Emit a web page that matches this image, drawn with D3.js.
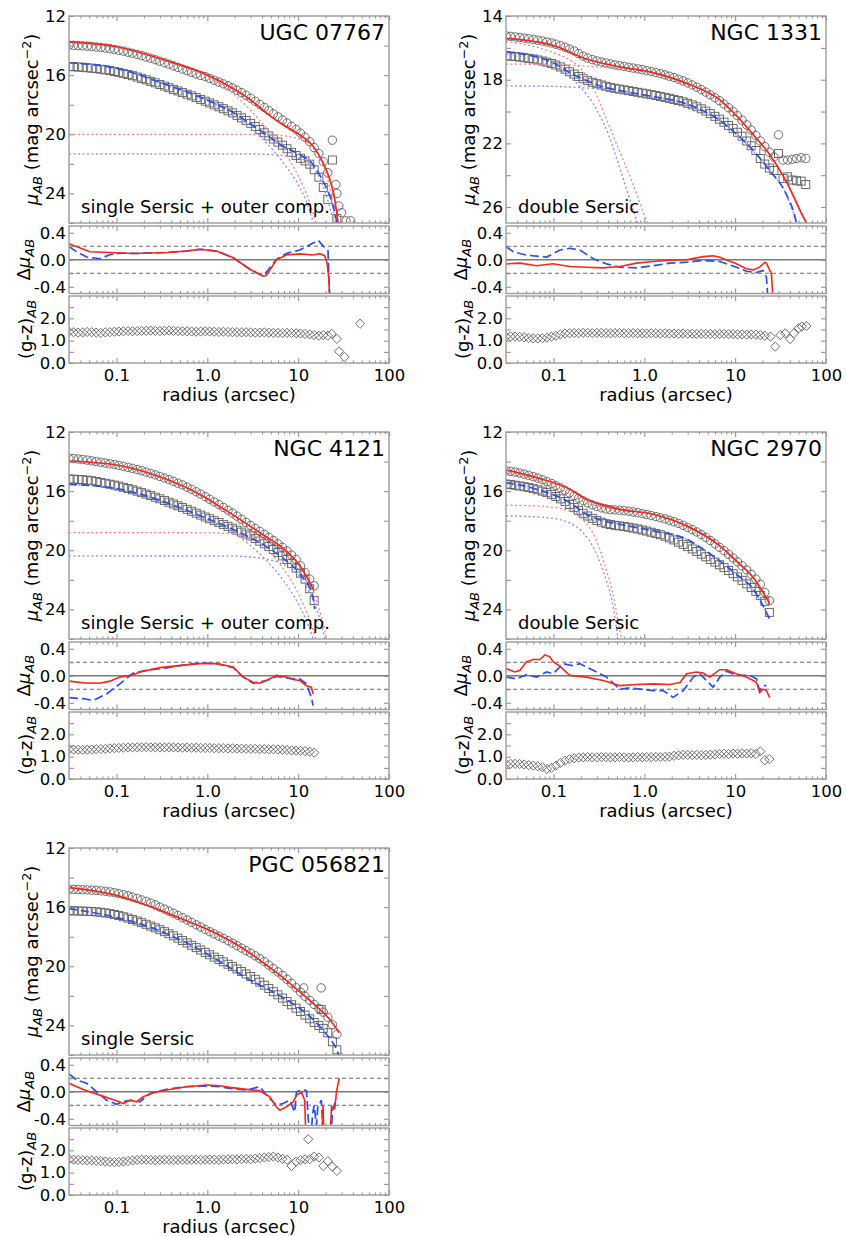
<!DOCTYPE html>
<html><head><meta charset="utf-8">
<script src="https://cdn.jsdelivr.net/npm/d3@7/dist/d3.min.js"></script>
<style>
html,body{margin:0;padding:0;background:#fff;}
svg{display:block;}
text{font-family:"DejaVu Sans","Bitstream Vera Sans",sans-serif;fill:#000;}
.tick text{font-size:16.5px;}
</style></head><body>
<svg id="chart" width="846" height="1236" xmlns="http://www.w3.org/2000/svg"></svg>
<script>
// ---------------- shared axis data ----------------
const radiusGrid = [0.030,0.0337,0.0378,0.0424,0.0475,0.0533,0.0599,0.0672,0.0754,0.0846,
 0.0949,0.106,0.119,0.134,0.150,0.169,0.189,0.212,0.238,0.267,
 0.300,0.337,0.378,0.424,0.475,0.533,0.599,0.672,0.754,0.846,
 0.949,1.06,1.19,1.34,1.50,1.69,1.89,2.12,2.38,2.67,
 3.00,3.37,3.78,4.24,4.75,5.33,5.99,6.72,7.54,8.46,
 9.49,10.6,11.9,13.4,15.0,16.9,18.9,21.2,23.8,26.7,
 30.0,33.7,37.8,42.4,47.5,53.3,59.9];
const xMajorTicks = [0.1, 1, 10, 100];
const xTickLabels = ["0.1", "1.0", "10", "100"];
const xMinorTicks = [0.04,0.05,0.06,0.07,0.08,0.09,0.2,0.3,0.4,0.5,0.6,0.7,0.8,0.9,2,3,4,5,6,7,8,9,20,30,40,50,60,70,80,90];
const resTicks = [-0.4,-0.2,0,0.2,0.4];
const resRefLines = [-0.2, 0.2];
const colorTicks = [0,0.5,1,1.5,2,2.5];

// ---------------- UGC 07767 ----------------
const ugcCircles = [13.97,13.98,14.00,14.02,14.04,14.07,14.10,14.13,14.17,14.21,
 14.26,14.32,14.38,14.45,14.52,14.60,14.68,14.77,14.86,14.96,
 15.06,15.16,15.26,15.37,15.48,15.59,15.70,15.81,15.92,16.02,
 16.10,16.22,16.34,16.47,16.59,16.72,16.86,17.02,17.18,17.36,
 17.56,17.77,17.98,18.19,18.40,18.61,18.82,19.03,19.24,19.46,
 19.68,19.92,20.20,20.50,20.90,21.30,21.85,22.60,20.40,24.00,
 25.30,25.85,25.85];
const ugcSquares = [15.42,15.43,15.45,15.47,15.50,15.53,15.56,15.60,15.64,15.69,
 15.75,15.81,15.88,15.96,16.04,16.13,16.22,16.32,16.42,16.52,
 16.63,16.74,16.85,16.96,17.07,17.18,17.29,17.40,17.52,17.64,
 17.76,17.88,18.01,18.14,18.27,18.41,18.55,18.72,18.89,19.07,
 19.26,19.47,19.68,19.90,20.11,20.32,20.53,20.74,20.98,21.22,
 21.44,21.62,21.80,22.02,22.40,22.90,23.60,24.40,21.74,25.70];
const ugcColors = [1.40,1.38,1.36,1.37,1.39,1.38,1.36,1.35,1.37,1.38,
 1.40,1.41,1.42,1.43,1.42,1.43,1.44,1.44,1.45,1.44,
 1.43,1.44,1.45,1.44,1.43,1.42,1.42,1.41,1.40,1.41,
 1.42,1.41,1.40,1.39,1.40,1.39,1.38,1.38,1.37,1.38,
 1.37,1.36,1.36,1.37,1.36,1.35,1.35,1.34,1.35,1.34,
 1.33,1.32,1.30,1.28,1.25,1.22,1.25,1.22];
const ugcExtraCircleR = [26.0, 28.0];
const ugcExtraCircleMu = [23.4, 24.85];
const ugcExtraColorR = [23.4, 26.7, 28.2, 32.4, 48];
const ugcExtraColorV = [1.30, 1.08, 0.52, 0.27, 1.76];
const ugcModelGR = [0.03,0.1,0.36,1.0,1.9,3.0,4.5,6.8,10.4,14.6,18.8,22.3,25.3,27.5];
const ugcModelGMu = [13.75,14.08,15.03,15.99,16.89,17.68,18.57,19.36,20.03,20.81,21.93,23.06,24.4,26.0];
const ugcModelZR = [0.03,0.1,0.36,0.98,1.93,3.0,4.48,6.82,10.4,14.6,18.8,22.3,25.3,26.8];
const ugcModelZMu = [15.16,15.54,16.66,17.67,18.53,19.3,20.03,20.81,21.37,22.05,23.17,24.18,25.3,26.0];
const ugcCompGInR = [0.03,0.1,0.36,1.0,1.9,2.8,4.5,7,10,13,16];
const ugcCompGInMu = [13.76,14.1,15.06,16.05,17.2,18.2,19.6,21.2,22.8,24.4,26.2];
const ugcCompGOutR = [0.03,2,5,8,10,14,18,22,26];
const ugcCompGOutMu = [20.0,20.0,20.05,20.15,20.3,20.8,21.8,23.5,26.2];
const ugcCompZInR = [0.03,0.1,0.36,1.0,1.9,3,4.5,7,10,13,15];
const ugcCompZInMu = [15.17,15.55,16.68,17.7,18.65,19.6,20.6,22.0,23.4,24.9,26.2];
const ugcCompZOutR = [0.03,3,6,10,14,18,22,25];
const ugcCompZOutMu = [21.33,21.33,21.4,21.6,22.1,23.2,24.8,26.2];
const ugcResGR = [0.03,0.051,0.085,0.153,0.356,0.59,0.83,1.27,1.93,2.94,4.12,4.48,5.77,7.42,10.4,14.6,17.3,19.6,20.8,21.7,22.3];
const ugcResGV = [0.237,0.118,0.108,0.093,0.108,0.128,0.155,0.128,0.03,-0.14,-0.243,-0.23,0,0.07,0.087,0.07,0.09,0.06,-0.05,-0.27,-0.6];
const ugcResZR = [0.03,0.0365,0.047,0.066,0.085,0.119,0.153,0.356,0.59,0.83,1.27,1.93,2.94,4.12,5.77,7.42,10.4,14.6,16.6,18.8,21.3,21.9,22.3];
const ugcResZV = [0.195,0.118,0.04,0.015,0.077,0.1,0.093,0.108,0.13,0.155,0.128,0.03,-0.14,-0.243,0.005,0.093,0.144,0.247,0.288,0.206,0.134,-0.32,-0.6];

// ---------------- NGC 1331 ----------------
const n1331Circles = [15.25,15.28,15.31,15.35,15.39,15.43,15.47,15.52,15.57,15.63,
 15.69,15.77,15.86,15.96,16.07,16.20,16.36,16.52,16.64,16.74,
 16.82,16.89,16.95,17.01,17.07,17.12,17.17,17.22,17.27,17.32,
 17.37,17.43,17.49,17.55,17.62,17.70,17.78,17.87,17.97,18.08,
 18.20,18.33,18.47,18.62,18.78,18.95,19.13,19.32,19.53,19.76,
 20.00,20.26,20.54,20.84,21.16,21.50,21.85,22.20,22.55,22.85,
 21.46,23.05,23.05,23.00,22.95,22.90,22.95];
const n1331Squares = [16.50,16.52,16.55,16.58,16.62,16.66,16.70,16.76,16.83,16.90,
 16.98,17.08,17.20,17.34,17.50,17.65,17.80,17.94,18.06,18.16,
 18.25,18.33,18.41,18.48,18.54,18.59,18.64,18.69,18.74,18.79,
 18.84,18.89,18.94,18.99,19.05,19.11,19.17,19.24,19.31,19.39,
 19.48,19.58,19.70,19.83,19.97,20.13,20.30,20.48,20.67,20.87,
 21.07,21.30,21.55,21.85,22.15,22.45,22.95,23.30,23.55,23.70,
 22.64,24.20,24.10,24.30,24.35,24.37,24.58];
const n1331Colors = [1.18,1.19,1.18,1.17,1.15,1.12,1.10,1.10,1.11,1.14,
 1.18,1.22,1.28,1.32,1.33,1.34,1.34,1.35,1.35,1.34,
 1.35,1.35,1.34,1.33,1.34,1.34,1.33,1.33,1.34,1.33,
 1.33,1.32,1.33,1.33,1.32,1.33,1.32,1.32,1.31,1.32,
 1.31,1.31,1.30,1.31,1.30,1.30,1.29,1.30,1.30,1.29,
 1.29,1.28,1.28,1.27,1.28,1.27,1.25,1.22];
const n1331ExtraColorR = [24.5,27.6,31.4,35.6,40.3,44.3,50.1,54.3,60.9];
const n1331ExtraColorV = [1.18,0.74,1.25,1.33,1.07,1.33,1.56,1.63,1.66];
const n1331ModelGR = [0.03,0.1,0.23,0.54,1.25,2.92,6.77,10.3,15.8,24,36.6,56,61];
const n1331ModelGMu = [15.41,15.85,16.7,17.19,17.56,18.23,19.27,20.25,21.45,22.7,24.4,26.6,27.0];
const n1331ModelZR = [0.03,0.1,0.151,0.23,0.353,0.539,1.25,2.92,6.77,10.3,15.8,24,36.6,45.3,47.3];
const n1331ModelZMu = [16.25,16.95,17.55,18.05,18.45,18.69,19.06,19.52,20.55,21.4,22.45,23.7,25.2,26.56,27.0];
const n1331CompGInR = [0.03,0.06,0.1,0.15,0.2,0.3,0.384,0.5,0.756,1.05,1.15];
const n1331CompGInMu = [15.6,15.9,16.3,16.75,17.3,19.0,20.5,22.1,24.6,26.8,27.3];
const n1331CompGOutR = [0.03,0.1,0.2,0.3,0.54,1.25,2.92,6.77,10.3,15.8,24,36.6,56,61];
const n1331CompGOutMu = [17.02,17.05,17.12,17.2,17.25,17.58,18.25,19.29,20.27,21.47,22.72,24.42,26.62,27.0];
const n1331CompZInR = [0.03,0.06,0.1,0.15,0.2,0.3,0.4,0.54,0.7,0.85];
const n1331CompZInMu = [16.4,16.75,17.2,17.85,18.5,19.9,21.4,23.6,25.6,27.1];
const n1331CompZOutR = [0.03,0.1,0.2,0.35,0.54,1.25,2.92,6.77,10.3,15.8,24,36.6,47.3];
const n1331CompZOutMu = [18.39,18.42,18.5,18.6,18.72,19.08,19.54,20.57,21.42,22.47,23.72,25.22,27.0];
const n1331ResGR = [0.03,0.0428,0.0652,0.099,0.151,0.23,0.353,0.539,0.822,1.25,1.91,2.92,4.44,5.72,6.77,10.3,13.3,15.8,18.6,21.2,22.1,25.1,26.1];
const n1331ResGV = [-0.062,-0.05,-0.088,-0.06,-0.1,-0.11,-0.12,-0.1,-0.05,-0.026,-0.005,0,0.046,0.06,0.036,-0.06,-0.134,-0.15,-0.11,-0.04,-0.05,-0.21,-0.6];
const n1331ResZR = [0.03,0.0361,0.0506,0.084,0.118,0.151,0.195,0.274,0.384,0.539,0.822,1.25,1.91,2.92,4.44,6.77,10.3,13.3,17.2,20.3,22.1,23.0];
const n1331ResZV = [0.195,0.118,0.067,0.04,0.144,0.17,0.144,0.015,-0.062,-0.11,-0.12,-0.088,-0.05,-0.036,-0.01,-0.026,-0.11,-0.17,-0.19,-0.16,-0.26,-0.6];

// ---------------- NGC 4121 ----------------
const n4121Circles = [13.78,13.80,13.83,13.86,13.90,13.95,14.00,14.05,14.10,14.15,
 14.20,14.26,14.32,14.39,14.46,14.54,14.62,14.71,14.80,14.90,
 15.00,15.11,15.22,15.34,15.46,15.58,15.73,15.88,16.04,16.20,
 16.37,16.55,16.73,16.91,17.10,17.29,17.48,17.69,17.90,18.11,
 18.32,18.52,18.72,18.92,19.12,19.34,19.57,19.80,20.05,20.32,
 20.62,21.05,21.50,21.95,22.40];
const n4121Squares = [15.18,15.19,15.21,15.23,15.26,15.30,15.35,15.41,15.47,15.53,
 15.59,15.66,15.74,15.82,15.91,16.00,16.10,16.20,16.30,16.41,
 16.52,16.63,16.75,16.87,16.99,17.11,17.23,17.36,17.49,17.62,
 17.75,17.87,18.00,18.12,18.25,18.38,18.51,18.64,18.77,18.90,
 19.03,19.20,19.38,19.56,19.74,19.94,20.15,20.38,20.62,20.90,
 21.20,21.55,21.95,22.60,23.40];
const n4121Colors = [1.33,1.32,1.31,1.30,1.31,1.32,1.33,1.34,1.35,1.37,
 1.38,1.39,1.40,1.41,1.41,1.42,1.42,1.43,1.42,1.42,
 1.41,1.41,1.42,1.41,1.41,1.40,1.41,1.40,1.40,1.39,
 1.39,1.39,1.38,1.38,1.38,1.37,1.37,1.36,1.36,1.35,
 1.35,1.35,1.34,1.34,1.33,1.33,1.32,1.31,1.30,1.28,
 1.27,1.26,1.25,1.22,1.18];
const n4121ModelGR = [0.03,0.1,0.356,0.83,1.93,4.48,6.82,10.4,14.6];
const n4121ModelGMu = [13.96,14.23,15.2,16.22,17.62,19.1,19.85,21.03,22.6];
const n4121ModelZR = [0.03,0.1,0.356,0.83,1.93,4.48,6.82,10.4,14.6,15.2];
const n4121ModelZMu = [15.54,15.82,16.78,17.66,18.6,19.75,20.55,21.6,23.19,23.98];
const n4121CompGInR = [0.03,0.1,0.36,0.83,1.93,3,4.5,6.8,10,13,16];
const n4121CompGInMu = [13.97,14.24,15.22,16.25,17.85,18.9,19.9,21.2,22.9,24.5,26.2];
const n4121CompGOutR = [0.03,1,2,4,6.8,10.4,14.6,18,21];
const n4121CompGOutMu = [18.8,18.82,18.9,19.2,19.9,21.1,22.8,24.5,26.2];
const n4121CompZInR = [0.03,0.1,0.36,0.83,1.93,3,4.5,6.8,10,13,15];
const n4121CompZInMu = [15.55,15.83,16.8,17.7,18.8,19.7,20.7,22.0,23.6,25.1,26.2];
const n4121CompZOutR = [0.03,2,4,6.8,10.4,14.6,18,20];
const n4121CompZOutMu = [20.38,20.4,20.55,20.95,21.8,23.4,25.0,26.2];
const n4121ResGR = [0.03,0.0431,0.0657,0.0847,0.109,0.153,0.181,0.301,0.543,0.83,1.27,1.93,2.48,3.19,3.78,4.48,5.77,7.42,8.79,10.4,12.3,14.0,14.6];
const n4121ResGV = [-0.08,-0.106,-0.11,-0.08,-0.02,0.015,0.056,0.12,0.157,0.18,0.18,0.13,-0.02,-0.096,-0.11,-0.07,0.005,-0.02,-0.056,-0.07,-0.147,-0.17,-0.27];
const n4121ResZR = [0.03,0.0431,0.0556,0.0779,0.109,0.153,0.234,0.356,0.543,0.83,1.27,1.93,2.48,3.19,4.48,5.77,8.79,10.4,12.3,14.0,14.6];
const n4121ResZV = [-0.324,-0.34,-0.365,-0.27,-0.12,0.04,0.09,0.117,0.157,0.19,0.18,0.12,-0.02,-0.11,-0.07,-0.01,-0.046,-0.046,-0.12,-0.324,-0.44];

// ---------------- NGC 2970 ----------------
const n2970Circles = [14.62,14.66,14.71,14.78,14.85,14.93,15.02,15.12,15.23,15.35,
 15.48,15.62,15.77,15.94,16.12,16.30,16.48,16.65,16.80,16.93,
 17.04,17.13,17.20,17.25,17.27,17.29,17.32,17.36,17.41,17.46,
 17.52,17.58,17.65,17.72,17.80,17.88,17.97,18.07,18.18,18.31,
 18.45,18.60,18.76,18.94,19.13,19.34,19.56,19.80,20.03,20.27,
 20.52,20.78,21.05,21.33,21.62,21.95,22.30,22.85,23.40];
const n2970Squares = [15.52,15.56,15.60,15.65,15.70,15.76,15.83,15.91,16.00,16.10,
 16.22,16.36,16.52,16.70,16.90,17.10,17.30,17.50,17.68,17.84,
 17.98,18.10,18.20,18.26,18.31,18.35,18.39,18.44,18.50,18.56,
 18.63,18.70,18.78,18.86,18.95,19.05,19.17,19.30,19.45,19.60,
 19.75,19.91,20.08,20.26,20.44,20.62,20.80,20.98,21.17,21.37,
 21.58,21.80,22.03,22.27,22.52,22.78,23.05,23.45,24.20];
const n2970Colors = [0.67,0.68,0.68,0.67,0.65,0.62,0.60,0.57,0.53,0.45,
 0.50,0.60,0.72,0.82,0.89,0.93,0.96,0.97,0.98,0.97,
 0.97,0.98,0.98,0.97,0.97,0.98,0.97,0.96,0.97,0.98,
 0.97,0.98,0.98,0.99,0.98,0.99,1.00,1.04,1.06,1.08,
 1.08,1.07,1.08,1.07,1.08,1.09,1.10,1.12,1.13,1.12,
 1.14,1.13,1.15,1.14,1.15,1.12,1.23,0.84,0.89];
const n2970ModelGR = [0.03,0.0652,0.151,0.23,0.353,0.539,1.25,2.92,6.77,10.3,15.8,24];
const n2970ModelGMu = [14.57,15.09,15.87,16.55,16.95,17.23,17.56,18.35,19.7,20.72,21.84,23.6];
const n2970ModelZR = [0.03,0.0652,0.151,0.23,0.353,0.539,1.25,2.92,4.44,6.77,10.3,15.8,24];
const n2970ModelZMu = [15.42,15.87,16.77,17.56,18.01,18.24,18.69,19.25,19.93,20.72,21.62,22.63,24.66];
const n2970CompGInR = [0.03,0.06,0.1,0.15,0.2,0.3,0.38,0.45,0.54,0.58];
const n2970CompGInMu = [16.95,17.0,17.1,17.35,17.8,19.4,21.3,22.9,25.5,26.3];
const n2970CompGOutR = [0.03,0.065,0.151,0.23,0.353,0.54,1.25,2.92,6.77,10.3,15.8,24];
const n2970CompGOutMu = [14.7,15.25,16.19,16.79,17.08,17.25,17.57,18.36,19.71,20.73,21.85,23.6];
const n2970CompZInR = [0.03,0.06,0.1,0.15,0.2,0.3,0.38,0.45,0.52];
const n2970CompZInMu = [17.68,17.73,17.85,18.15,18.65,20.3,22.0,23.7,26.3];
const n2970CompZOutR = [0.03,0.065,0.151,0.23,0.353,0.54,1.25,2.92,4.44,6.77,10.3,15.8,24];
const n2970CompZOutMu = [15.56,16.0,17.12,17.87,18.05,18.27,18.7,19.26,19.94,20.73,21.63,22.64,24.67];
const n2970ResGR = [0.03,0.0377,0.0428,0.0506,0.0599,0.0709,0.0806,0.0915,0.099,0.118,0.151,0.23,0.353,0.539,0.822,1.25,1.91,2.47,2.92,3.76,4.44,5.25,6.77,8.03,10.3,13.3,15.8,17.2,18.6,20.3,22.1,24.0];
const n2970ResGV = [0.106,0.056,0.08,0.21,0.24,0.24,0.31,0.28,0.21,0.14,0.005,-0.02,-0.07,-0.147,-0.13,-0.12,-0.13,-0.1,0.03,0.056,0.04,-0.02,0.09,0.09,0.03,-0.02,-0.07,-0.1,-0.25,-0.2,-0.22,-0.324];
const n2970ResZR = [0.03,0.0394,0.0506,0.0652,0.084,0.099,0.128,0.151,0.165,0.195,0.274,0.384,0.539,0.693,1.25,1.61,2.08,2.68,3.46,4.08,5.25,5.72,6.77,8.03,10.3,14.5,17.2,18.6,20.3,22.1];
const n2970ResZV = [-0.02,-0.046,0.015,-0.02,0.056,0.03,0.18,0.157,0.15,0.18,0.08,-0.02,-0.2,-0.18,-0.22,-0.22,-0.32,-0.22,-0.02,0.03,-0.12,-0.17,-0.02,0.07,0.005,0.005,-0.046,-0.22,-0.147,-0.147];

// ---------------- PGC 056821 ----------------
const pgcCircles = [14.80,14.80,14.81,14.82,14.83,14.85,14.87,14.90,14.93,14.97,
 15.02,15.08,15.15,15.23,15.32,15.41,15.51,15.61,15.72,15.84,
 16.00,16.13,16.27,16.41,16.56,16.71,16.87,17.03,17.19,17.35,
 17.51,17.66,17.81,17.96,18.11,18.27,18.43,18.60,18.77,18.94,
 19.11,19.29,19.48,19.69,19.92,20.15,20.38,20.62,20.88,21.15,
 21.45,21.75,22.03,22.30,22.58,22.85,23.10,23.45,23.95,24.60];
const pgcSquares = [16.25,16.25,16.26,16.27,16.28,16.30,16.32,16.35,16.39,16.44,
 16.50,16.57,16.65,16.74,16.84,16.94,17.05,17.16,17.28,17.40,
 17.53,17.66,17.80,17.94,18.10,18.26,18.42,18.58,18.74,18.90,
 19.06,19.22,19.38,19.54,19.70,19.86,20.02,20.18,20.35,20.52,
 20.69,20.88,21.07,21.28,21.50,21.72,21.93,22.15,22.38,22.60,
 22.83,23.06,23.30,23.55,23.80,24.00,24.20,24.50,25.10,25.65];
const pgcColors = [1.60,1.58,1.57,1.56,1.55,1.55,1.53,1.52,1.50,1.48,
 1.47,1.48,1.50,1.52,1.55,1.57,1.58,1.58,1.57,1.56,
 1.57,1.58,1.57,1.56,1.57,1.58,1.57,1.58,1.58,1.57,
 1.58,1.59,1.58,1.57,1.59,1.60,1.60,1.59,1.61,1.62,
 1.60,1.63,1.65,1.68,1.70,1.72,1.68,1.62,1.58,1.30,
 1.50,1.56,1.60,1.60,1.72,1.68,1.30,1.52,1.27,1.08];
const pgcExtraCircleR = [11.5, 17.9];
const pgcExtraCircleMu = [21.46, 21.46];
const pgcExtraSquareR = [17.9];
const pgcExtraSquareMu = [22.92];
const pgcExtraColorR = [12.9];
const pgcExtraColorV = [2.5];
const pgcModelGR = [0.03,0.1,0.234,0.5,1.0,2.7,4.9,6.3,9.6,14.6,22.3,28.3];
const pgcModelGMu = [14.68,15.2,15.95,16.75,17.5,18.95,20.1,20.6,21.55,22.5,23.6,24.5];
const pgcModelZR = [0.03,0.1,0.234,0.54,1.2,2.7,6.3,14.6,22.3,26.4,28.3];
const pgcModelZMu = [16.1,16.7,17.35,18.3,19.45,20.8,22.0,23.6,24.9,25.6,26.1];
const pgcResGR = [0.03,0.0431,0.0657,0.0847,0.1,0.119,0.141,0.166,0.197,0.254,0.356,0.59,0.98,1.37,1.77,2.7,3.79,4.88,5.77,6.28,7.44,8.81,9.59,10.9,11.8,12.1,18.3,18.8,19.1,22.6,23.3,25.3,26.4,28.3];
const pgcResGV = [0.125,0.035,-0.05,-0.1,-0.135,-0.175,-0.125,-0.15,-0.075,-0.015,0.025,0.075,0.1,0.09,0.065,0.035,0.015,-0.075,-0.225,-0.275,-0.225,-0.15,-0.05,-0.01,-0.125,-0.6,-0.6,-0.2,-0.6,-0.6,-0.22,-0.25,0.0,0.2];
const pgcResZR = [0.03,0.0364,0.047,0.0603,0.0779,0.1,0.129,0.153,0.181,0.234,0.356,0.59,0.98,1.37,1.77,2.7,3.79,4.48,5.77,6.82,8.07,9.17,9.59,11.35,12.35,12.9,13.4,14.0,14.4,15.0,15.9,16.5,17.3,18.0,18.8,23.3,23.8,25.9,26.9];
const pgcResZV = [0.265,0.175,0.125,0,-0.125,-0.185,-0.135,-0.125,-0.15,-0.025,0.035,0.075,0.085,0.075,0.05,0.025,0.075,-0.05,-0.2,-0.175,-0.125,-0.3,0,0.035,0.015,-0.4,-0.6,-0.6,-0.33,-0.2,-0.5,-0.2,-0.175,-0.125,-0.6,-0.6,-0.28,-0.125,-0.1];

// ---------------- assemble ----------------
const pairs = (R, V) => R.map((r, i) => [r, V[i]]);
const onGrid = V => V.map((v, i) => [radiusGrid[i], v]);

const galaxies = [
 {name:"UGC 07767", note:"single Sersic + outer comp.", col:0, row:0, yDomain:[12,26],
  circles:onGrid(ugcCircles).concat(pairs(ugcExtraCircleR, ugcExtraCircleMu)),
  squares:onGrid(ugcSquares),
  colors:onGrid(ugcColors).concat(pairs(ugcExtraColorR, ugcExtraColorV)),
  modelG:pairs(ugcModelGR, ugcModelGMu), modelZ:pairs(ugcModelZR, ugcModelZMu),
  compG:[pairs(ugcCompGInR, ugcCompGInMu), pairs(ugcCompGOutR, ugcCompGOutMu)],
  compZ:[pairs(ugcCompZInR, ugcCompZInMu), pairs(ugcCompZOutR, ugcCompZOutMu)],
  resG:pairs(ugcResGR, ugcResGV), resZ:pairs(ugcResZR, ugcResZV)},
 {name:"NGC 1331", note:"double Sersic", col:1, row:0, yDomain:[14,27],
  circles:onGrid(n1331Circles), squares:onGrid(n1331Squares),
  colors:onGrid(n1331Colors).concat(pairs(n1331ExtraColorR, n1331ExtraColorV)),
  modelG:pairs(n1331ModelGR, n1331ModelGMu), modelZ:pairs(n1331ModelZR, n1331ModelZMu),
  compG:[pairs(n1331CompGInR, n1331CompGInMu), pairs(n1331CompGOutR, n1331CompGOutMu)],
  compZ:[pairs(n1331CompZInR, n1331CompZInMu), pairs(n1331CompZOutR, n1331CompZOutMu)],
  resG:pairs(n1331ResGR, n1331ResGV), resZ:pairs(n1331ResZR, n1331ResZV)},
 {name:"NGC 4121", note:"single Sersic + outer comp.", col:0, row:1, yDomain:[12,26],
  circles:onGrid(n4121Circles), squares:onGrid(n4121Squares), colors:onGrid(n4121Colors),
  modelG:pairs(n4121ModelGR, n4121ModelGMu), modelZ:pairs(n4121ModelZR, n4121ModelZMu),
  compG:[pairs(n4121CompGInR, n4121CompGInMu), pairs(n4121CompGOutR, n4121CompGOutMu)],
  compZ:[pairs(n4121CompZInR, n4121CompZInMu), pairs(n4121CompZOutR, n4121CompZOutMu)],
  resG:pairs(n4121ResGR, n4121ResGV), resZ:pairs(n4121ResZR, n4121ResZV)},
 {name:"NGC 2970", note:"double Sersic", col:1, row:1, yDomain:[12,26],
  circles:onGrid(n2970Circles), squares:onGrid(n2970Squares), colors:onGrid(n2970Colors),
  modelG:pairs(n2970ModelGR, n2970ModelGMu), modelZ:pairs(n2970ModelZR, n2970ModelZMu),
  compG:[pairs(n2970CompGInR, n2970CompGInMu), pairs(n2970CompGOutR, n2970CompGOutMu)],
  compZ:[pairs(n2970CompZInR, n2970CompZInMu), pairs(n2970CompZOutR, n2970CompZOutMu)],
  resG:pairs(n2970ResGR, n2970ResGV), resZ:pairs(n2970ResZR, n2970ResZV)},
 {name:"PGC 056821", note:"single Sersic", col:0, row:2, yDomain:[12,26],
  circles:onGrid(pgcCircles).concat(pairs(pgcExtraCircleR, pgcExtraCircleMu)),
  squares:onGrid(pgcSquares).concat(pairs(pgcExtraSquareR, pgcExtraSquareMu)),
  colors:onGrid(pgcColors).concat(pairs(pgcExtraColorR, pgcExtraColorV)),
  modelG:pairs(pgcModelGR, pgcModelGMu), modelZ:pairs(pgcModelZR, pgcModelZMu),
  compG:[], compZ:[],
  resG:pairs(pgcResGR, pgcResGV), resZ:pairs(pgcResZR, pgcResZV)}
];

// ---------------- layout / style ----------------
const W = 320;
const colLeft = [69, 506];
const rowTop = [16, 432, 848];
const MAIN_H = 207, RES_T = 210, RES_B = 277.5, COL_T = 280, COL_B = 347;
const RED = "#f4281c", BLUE = "#2a4ff0";
const RED_LIGHT = "#ff8080", BLUE_LIGHT = "#8a8aff";
const MARK = "#5e5e5e", SPINE = "#9c9c9c", TICK = "#8a8a8a";

const svg = d3.select("#chart");
const defs = svg.append("defs");

function axes(x, y, y0, y1, left, yTicks, yFmt, showX){
  const ax = svg.append("g");
  const cfg = (a) => a.tickSizeOuter(0);
  ax.append("g").attr("transform", `translate(0,${y1})`)
    .call(cfg(d3.axisBottom(x).tickValues(xMajorTicks).tickSize(-5).tickPadding(6)
      .tickFormat((d, i) => showX ? xTickLabels[i] : "")));
  ax.append("g").attr("transform", `translate(0,${y1})`)
    .call(cfg(d3.axisBottom(x).tickValues(xMinorTicks).tickSize(-2.5).tickFormat("")));
  ax.append("g").attr("transform", `translate(0,${y0})`)
    .call(cfg(d3.axisTop(x).tickValues(xMajorTicks).tickSize(-5).tickFormat("")));
  ax.append("g").attr("transform", `translate(0,${y0})`)
    .call(cfg(d3.axisTop(x).tickValues(xMinorTicks).tickSize(-2.5).tickFormat("")));
  ax.append("g").attr("transform", `translate(${left},0)`)
    .call(cfg(d3.axisLeft(y).tickValues(yTicks).tickSize(-5).tickPadding(3).tickFormat(yFmt)));
  ax.append("g").attr("transform", `translate(${left + W},0)`)
    .call(cfg(d3.axisRight(y).tickValues(yTicks).tickSize(-5).tickFormat("")));
  ax.selectAll(".domain").remove();
  ax.selectAll("g").attr("font-family", null).attr("font-size", null);
  ax.selectAll(".tick line").attr("stroke", TICK).attr("stroke-width", 1);
  ax.selectAll(".tick text").attr("fill", "#000");
  ax.append("rect").attr("x", left).attr("y", y0).attr("width", W).attr("height", y1 - y0)
    .attr("fill", "none").attr("stroke", SPINE).attr("stroke-width", 1.4);
}

function clip(id, left, y0, y1){
  defs.append("clipPath").attr("id", id).append("rect")
    .attr("x", left).attr("y", y0).attr("width", W).attr("height", y1 - y0);
  return `url(#${id})`;
}

galaxies.forEach((g, gi) => {
  const left = colLeft[g.col], top = rowTop[g.row];
  const x = d3.scaleLog().domain([0.03, 100]).range([left, left + W]);
  const yM = d3.scaleLinear().domain(g.yDomain).range([top, top + MAIN_H]);
  const yR = d3.scaleLinear().domain([0.5, -0.5]).range([top + RES_T, top + RES_B]);
  const yC = d3.scaleLinear().domain([3, 0]).range([top + COL_T, top + COL_B]);

  // ---- main panel ----
  const mainG = svg.append("g").attr("clip-path", clip("cm" + gi, left, top, top + MAIN_H));
  mainG.append("g").selectAll("rect").data(g.squares).join("rect")
    .attr("x", d => x(d[0]) - 4).attr("y", d => yM(d[1]) - 4).attr("width", 8).attr("height", 8)
    .attr("fill", "none").attr("stroke", MARK).attr("stroke-width", 0.9);
  mainG.append("g").selectAll("circle").data(g.circles).join("circle")
    .attr("cx", d => x(d[0])).attr("cy", d => yM(d[1])).attr("r", 4.2)
    .attr("fill", "none").attr("stroke", MARK).attr("stroke-width", 0.9);
  const lineM = d3.line().x(d => x(d[0])).y(d => yM(d[1])).curve(d3.curveMonotoneX);
  g.compG.forEach(c => mainG.append("path").attr("d", lineM(c)).attr("fill", "none")
    .attr("stroke", RED_LIGHT).attr("stroke-width", 1.3).attr("stroke-dasharray", "2,2.5"));
  g.compZ.forEach(c => mainG.append("path").attr("d", lineM(c)).attr("fill", "none")
    .attr("stroke", BLUE_LIGHT).attr("stroke-width", 1.3).attr("stroke-dasharray", "2,2.5"));
  mainG.append("path").attr("d", lineM(g.modelZ)).attr("fill", "none")
    .attr("stroke", BLUE).attr("stroke-width", 1.7).attr("stroke-dasharray", "8,4");
  mainG.append("path").attr("d", lineM(g.modelG)).attr("fill", "none")
    .attr("stroke", RED).attr("stroke-width", 1.7);
  const mainTicks = d3.range(g.yDomain[0], g.yDomain[1] + 0.01, 2);
  axes(x, yM, top, top + MAIN_H, left, mainTicks,
    d => ((d - g.yDomain[0]) % 4 === 0 ? String(d) : ""), false);
  svg.append("text").attr("x", left + W - 4).attr("y", top + 24).attr("text-anchor", "end")
    .attr("font-size", 22).text(g.name);
  svg.append("text").attr("x", left + 12).attr("y", top + 197).attr("font-size", 18).text(g.note);
  const yl = svg.append("text").attr("transform", `translate(${left - 31},${top + MAIN_H / 2}) rotate(-90)`)
    .attr("text-anchor", "middle").attr("font-size", 18);
  yl.append("tspan").attr("font-style", "italic").text("μ");
  yl.append("tspan").attr("font-style", "italic").attr("font-size", 13).attr("dy", 4).text("AB");
  yl.append("tspan").attr("dy", -4).text(" (mag arcsec");
  yl.append("tspan").attr("font-size", 12.5).attr("dy", -7).text("−2");
  yl.append("tspan").attr("dy", 7).text(")");

  // ---- residual panel ----
  const r0 = top + RES_T, r1 = top + RES_B;
  const resG = svg.append("g").attr("clip-path", clip("cr" + gi, left, r0, r1));
  resG.append("line").attr("x1", left).attr("x2", left + W).attr("y1", yR(0)).attr("y2", yR(0))
    .attr("stroke", "#7a7a7a").attr("stroke-width", 1.3);
  resRefLines.forEach(v => resG.append("line").attr("x1", left).attr("x2", left + W)
    .attr("y1", yR(v)).attr("y2", yR(v)).attr("stroke", "#6a6a6a").attr("stroke-width", 1)
    .attr("stroke-dasharray", "4,3"));
  const lineR = d3.line().x(d => x(d[0])).y(d => yR(d[1]));
  resG.append("path").attr("d", lineR(g.resZ)).attr("fill", "none")
    .attr("stroke", BLUE).attr("stroke-width", 1.7).attr("stroke-dasharray", "9,4");
  resG.append("path").attr("d", lineR(g.resG)).attr("fill", "none")
    .attr("stroke", RED).attr("stroke-width", 1.6);
  axes(x, yR, r0, r1, left, resTicks, d => (Math.abs(d) > 0.3 || d === 0 ? d.toFixed(1) : ""), false);
  const rl = svg.append("text").attr("transform", `translate(${left - 39},${(r0 + r1) / 2}) rotate(-90)`)
    .attr("text-anchor", "middle").attr("font-size", 18);
  rl.append("tspan").text("Δ");
  rl.append("tspan").attr("font-style", "italic").text("μ");
  rl.append("tspan").attr("font-style", "italic").attr("font-size", 13).attr("dy", 4).text("AB");

  // ---- colour panel ----
  const c0 = top + COL_T, c1 = top + COL_B;
  const colG = svg.append("g").attr("clip-path", clip("cc" + gi, left, c0, c1));
  colG.selectAll("path").data(g.colors).join("path")
    .attr("transform", d => `translate(${x(d[0])},${yC(d[1])})`)
    .attr("d", "M0,-4.6L4.6,0L0,4.6L-4.6,0Z")
    .attr("fill", "none").attr("stroke", MARK).attr("stroke-width", 0.9);
  axes(x, yC, c0, c1, left, colorTicks, d => (d % 1 === 0 ? d.toFixed(1) : ""), true);
  const cl = svg.append("text").attr("transform", `translate(${left - 37},${(c0 + c1) / 2}) rotate(-90)`)
    .attr("text-anchor", "middle").attr("font-size", 18);
  cl.append("tspan").text("(g-z)");
  cl.append("tspan").attr("font-style", "italic").attr("font-size", 13).attr("dy", 4).text("AB");

  svg.append("text").attr("x", left + W / 2).attr("y", top + 385).attr("text-anchor", "middle")
    .attr("font-size", 18).text("radius (arcsec)");
});
</script></body></html>
